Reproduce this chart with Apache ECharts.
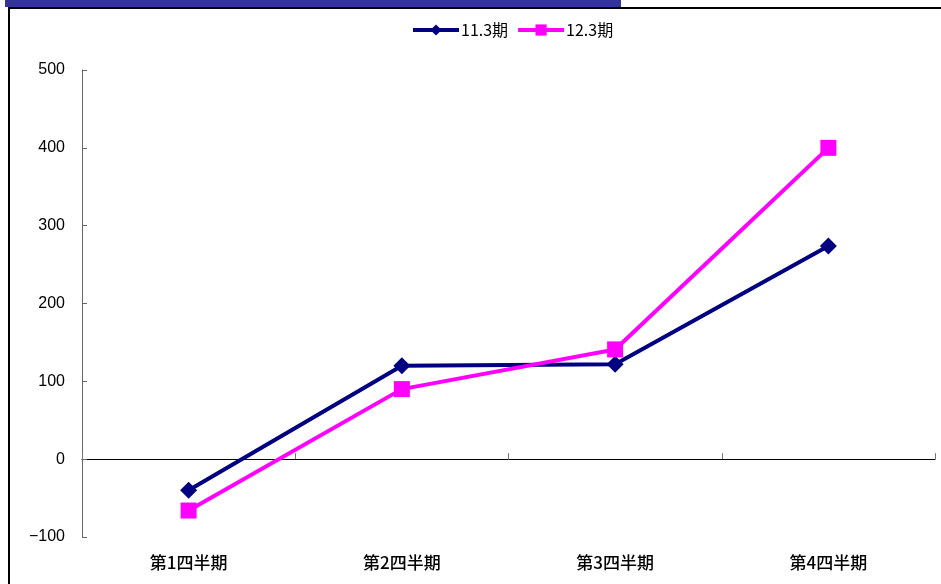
<!DOCTYPE html>
<html>
<head>
<meta charset="utf-8">
<script src="https://cdn.jsdelivr.net/npm/echarts@6/dist/echarts.min.js"></script>
<style>html,body{margin:0;padding:0;background:#fff;}#c{width:941px;height:584px;}</style>
</head>
<body>
<div id="c"></div>
<script>
var categories = ['第1四半期', '第2四半期', '第3四半期', '第4四半期'];
var seriesNames = ['11.3期', '12.3期'];
var values113 = [-40, 120, 122, 274];
var values123 = [-66, 90, 141, 400];
var yMin = -100, yMax = 500, yStep = 100;

var FONT = '"Noto Sans CJK JP", "Noto Sans", sans-serif';
var NUMFONT = '"Liberation Sans", Arial, sans-serif';
var chart = echarts.init(document.getElementById('c'));
chart.setOption({
  animation: false,
  backgroundColor: '#fff',
  graphic: [
    { type: 'rect', shape: { x: 5, y: 0, width: 616, height: 7 }, style: { fill: '#333399' } },
    { type: 'rect', shape: { x: 8, y: 7, width: 941, height: 2 }, style: { fill: '#000' } },
    { type: 'rect', shape: { x: 8, y: 7, width: 2, height: 584 }, style: { fill: '#000' } }
  ],
  legend: {
    top: 17, left: 406,
    itemWidth: 46, itemHeight: 14, itemGap: 8,
    textStyle: { fontFamily: FONT, fontSize: 16, color: '#000', padding: [0, 0, 0, -3] },
    data: [
      { name: seriesNames[0], lineStyle: { width: 4, color: '#000080' }, itemStyle: { color: '#000080' } },
      { name: seriesNames[1], lineStyle: { width: 4, color: '#FF00FF' }, itemStyle: { color: '#FF00FF' } }
    ]
  },
  grid: { left: 82, right: 6, top: 70, bottom: 47, containLabel: false },
  xAxis: [
    {
      type: 'category', data: categories, position: 'bottom',
      axisLine: { show: false }, axisTick: { show: false },
      axisLabel: { fontFamily: FONT, fontSize: 17, color: '#000', fontWeight: 500, margin: 17 }
    },
    {
      type: 'category', data: categories, position: 'bottom',
      axisLine: { show: true, onZero: true, onZeroAxisIndex: 0, lineStyle: { color: '#000', width: 1 } },
      axisTick: { show: true, inside: true, length: 6, alignWithLabel: false, lineStyle: { color: '#777' } },
      axisLabel: { show: false }
    }
  ],
  yAxis: {
    type: 'value', min: yMin, max: yMax, interval: yStep,
    axisLine: { show: true, lineStyle: { color: '#666', width: 1 } },
    axisTick: { show: true, inside: true, length: 5, lineStyle: { color: '#666' } },
    splitLine: { show: false },
    axisLabel: {
      fontFamily: NUMFONT, fontSize: 16, color: '#000', margin: 17,
      formatter: function (v) { return String(v).replace('-', '\u2212'); }
    }
  },
  series: [
    {
      name: seriesNames[0], type: 'line', data: values113, xAxisIndex: 1,
      symbol: 'diamond', symbolSize: 17,
      lineStyle: { color: '#000080', width: 4 },
      itemStyle: { color: '#000080' }
    },
    {
      name: seriesNames[1], type: 'line', data: values123, xAxisIndex: 1,
      symbol: 'rect', symbolSize: 16,
      lineStyle: { color: '#FF00FF', width: 4 },
      itemStyle: { color: '#FF00FF' }
    }
  ]
});
</script>
</body>
</html>
